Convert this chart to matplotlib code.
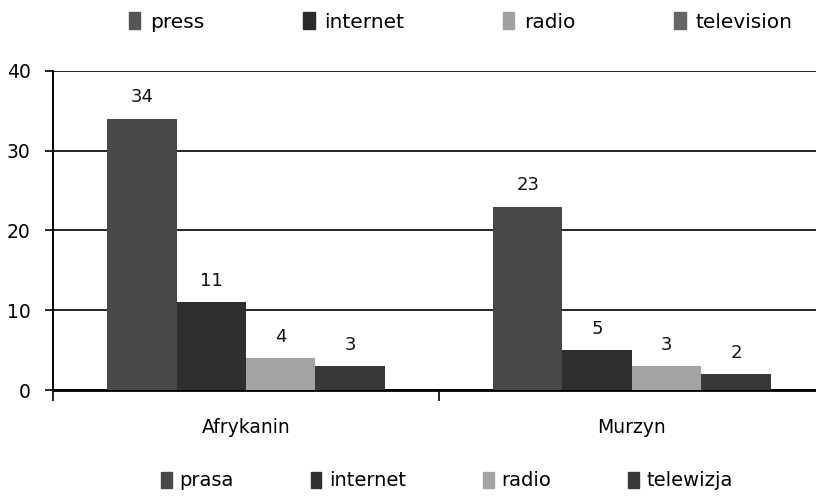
import matplotlib.pyplot as plt
import numpy as np
from matplotlib.patches import Patch

categories = ["Afrykanin", "Murzyn"]
series_pl = ["prasa", "internet", "radio", "telewizja"]
series_en = ["press", "internet", "radio", "television"]
prasa = [34, 23]
internet = [11, 5]
radio = [4, 3]
telewizja = [3, 2]
values = [prasa, internet, radio, telewizja]

bar_colors = ["#484848", "#2f2f2f", "#a3a3a3", "#383838"]
top_legend_colors = ["#555555", "#2a2a2a", "#a0a0a0", "#666666"]

plt.rcParams["font.family"] = ["DejaVu Sans"]

fig = plt.figure(figsize=(8.16, 4.96), dpi=100)
ax = fig.add_axes([53 / 816, 1 - 390 / 496, 1 - 53 / 816, (390 - 71) / 496])

x = np.arange(len(categories))
width = 0.18
for i, vals in enumerate(values):
    offs = (i - 1.5) * width
    bars = ax.bar(x + offs, vals, width, color=bar_colors[i], zorder=3, linewidth=0)
    ax.bar_label(bars, padding=9, fontsize=13, color="#111111")

ax.set_ylim(0, 40)
ax.set_xlim(-0.5, 1.477)
ax.set_yticks([0, 10, 20, 30, 40])
ax.yaxis.grid(True, color="black", linewidth=1.2, zorder=0)
ax.tick_params(axis="y", length=6, width=1.2, pad=10, labelsize=13.5, color="black")

# category labels centred, boundary ticks as minor ticks
ax.set_xticks(x)
ax.set_xticklabels(categories)
ax.set_xticks([-0.5, 0.5], minor=True)
ax.tick_params(axis="x", which="major", length=0, pad=20, labelsize=13.5)
ax.tick_params(axis="x", which="minor", length=8, width=1.2, color="black")

for s in ["top", "right"]:
    ax.spines[s].set_visible(False)
ax.spines["left"].set_linewidth(1.4)
ax.spines["bottom"].set_linewidth(2)

top_handles = [Patch(color=c) for c in top_legend_colors]
fig.legend(top_handles, series_en, loc="center", bbox_to_anchor=(461 / 816, 1 - 22 / 496),
           ncol=4, frameon=False, fontsize=14.5, handlelength=0.55, handleheight=0.9,
           handletextpad=0.5, columnspacing=4.9)

bot_handles = [Patch(color=c) for c in bar_colors]
fig.legend(bot_handles, series_pl, loc="center", bbox_to_anchor=(447 / 816, 1 - 481 / 496),
           ncol=4, frameon=False, fontsize=14, handlelength=0.55, handleheight=0.9,
           handletextpad=0.4, columnspacing=3.95)

fig.savefig("out.png", dpi=100)
